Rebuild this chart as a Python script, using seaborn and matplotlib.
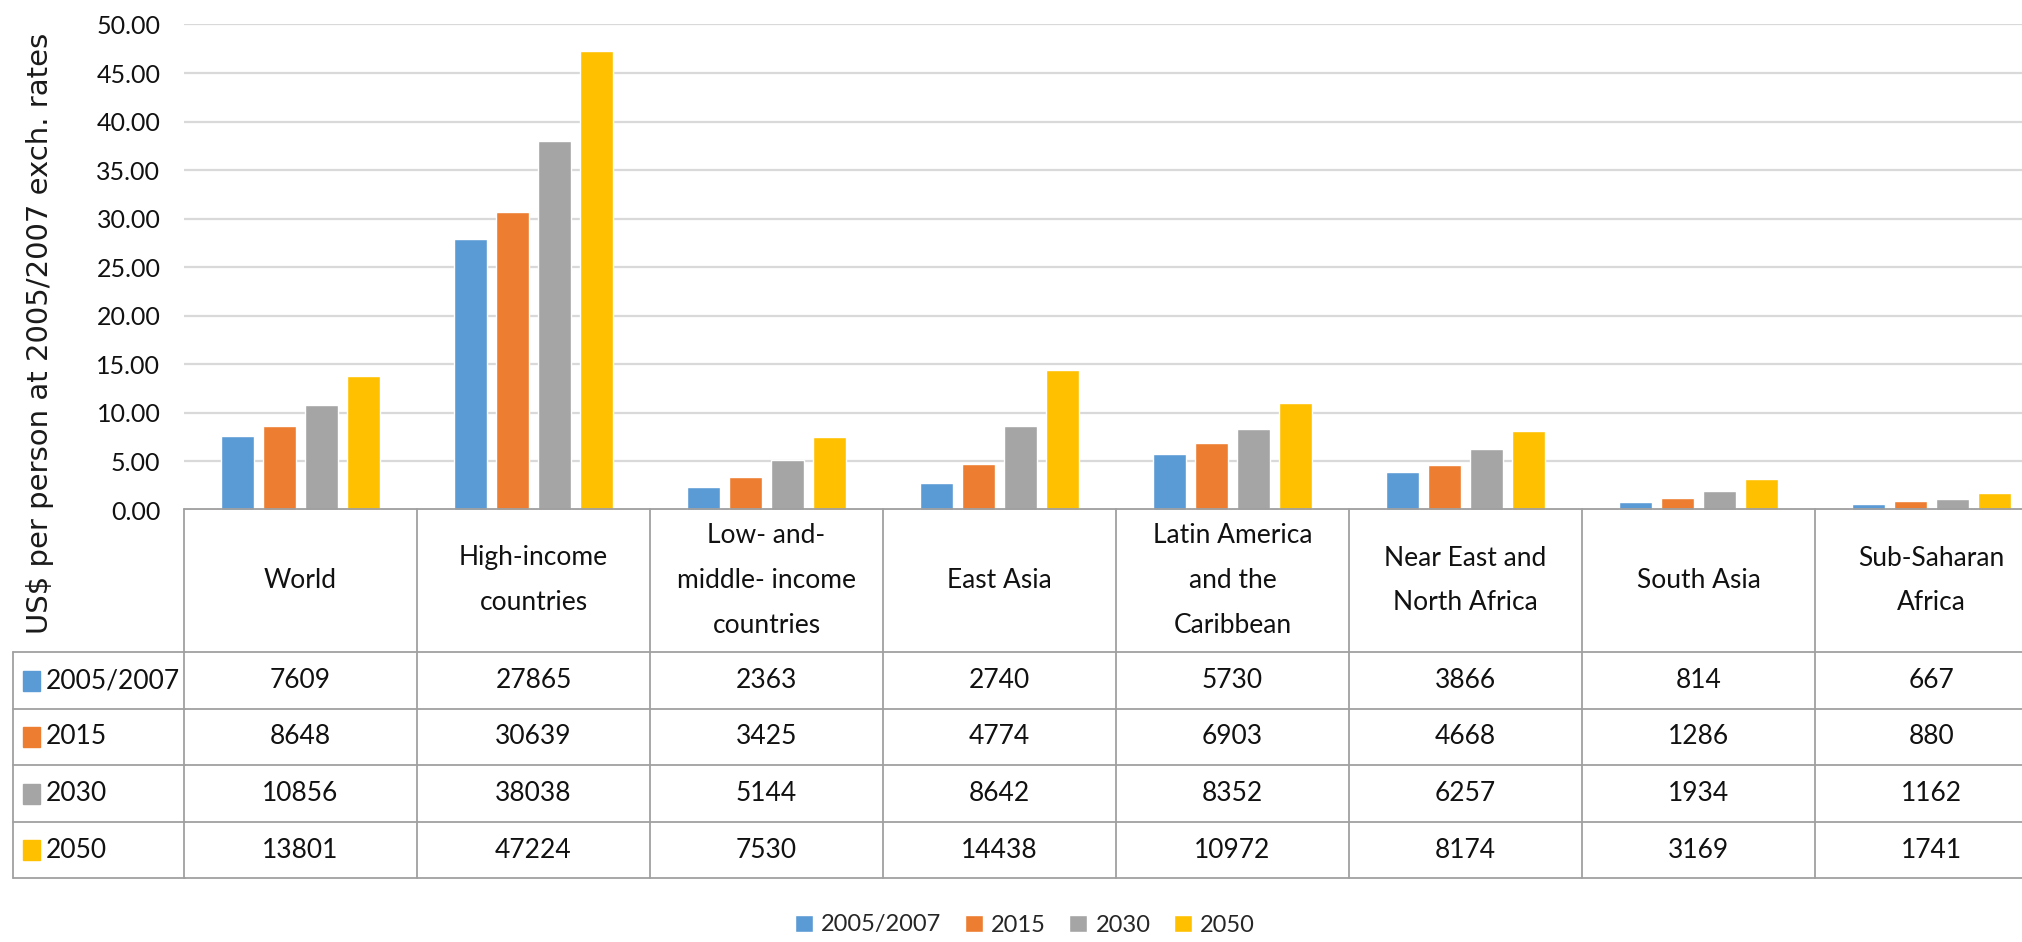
import matplotlib
matplotlib.use("Agg")
import matplotlib.pyplot as plt
import matplotlib.transforms as mtransforms
from matplotlib.lines import Line2D
from matplotlib.patches import Rectangle
import seaborn as sns
import pandas as pd

# dados (US$ por pessoa)
regioes = ["World", "High-income countries", "Low- and- middle- income countries",
           "East Asia", "Latin America and the Caribbean", "Near East and North Africa",
           "South Asia", "Sub-Saharan Africa"]
rotulos = ["World", "High-income\ncountries", "Low- and-\nmiddle- income\ncountries",
           "East Asia", "Latin America\nand the\nCaribbean", "Near East and\nNorth Africa",
           "South Asia", "Sub-Saharan\nAfrica"]
periodos = ["2005/2007", "2015", "2030", "2050"]
v_2005 = [7609, 27865, 2363, 2740, 5730, 3866, 814, 667]
v_2015 = [8648, 30639, 3425, 4774, 6903, 4668, 1286, 880]
v_2030 = [10856, 38038, 5144, 8642, 8352, 6257, 1934, 1162]
v_2050 = [13801, 47224, 7530, 14438, 10972, 8174, 3169, 1741]
cores = ["#5B9BD5", "#ED7D31", "#A5A5A5", "#FFC000"]

series = [v_2005, v_2015, v_2030, v_2050]
linhas = []
for p, vals in zip(periodos, series):
    for r, v in zip(regioes, vals):
        linhas.append({"regiao": r, "periodo": p, "valor": v / 1000})
df = pd.DataFrame(linhas)

sns.set_style("white")
plt.rcParams["font.family"] = ["Lato", "DejaVu Sans"]

W, H = 2022, 942
fig = plt.figure(figsize=(W / 100, H / 100), dpi=100)
ax = fig.add_axes([184 / W, 1 - 510 / H, 1864 / W, (510 - 24.5) / H])

sns.barplot(data=df, x="regiao", y="valor", hue="periodo", order=regioes,
            hue_order=periodos, palette=cores, width=0.726, gap=0.22,
            saturation=1, ax=ax)

ax.set_xlim(-0.5, len(regioes) - 0.5)
ax.set_ylim(0, 50)
ax.set_yticks(range(0, 51, 5))
ax.set_yticklabels([f"{t:.2f}" for t in range(0, 51, 5)], fontsize=18, color="#111111")
ax.tick_params(axis="y", length=0, pad=17)
ax.set_xticks([])
ax.set_xlabel("")
ax.set_ylabel("")
ax.grid(axis="y", color="#D9D9D9", linewidth=1.6)
ax.set_axisbelow(True)
for s in ax.spines.values():
    s.set_visible(False)

handles, labels = ax.get_legend_handles_labels()
ax.legend_.remove()
fig.legend(handles, labels, loc="center", bbox_to_anchor=(1025 / W, 1 - 925 / H),
           ncol=4, frameon=False, fontsize=17, handlelength=0.75, handleheight=0.75,
           handletextpad=0.35, columnspacing=1.0)

fig.text(40 / W, 1 - 333 / H, "US$ per person at 2005/2007 exch. rates",
         rotation=90, ha="center", va="center", fontsize=21,
         family="DejaVu Sans", color="#1a1a1a")

# tabela de dados (estilo Excel)
tr = mtransforms.blended_transform_factory(ax.transData, fig.transFigure)
cor_linha = "#A0A0A0"
lw = 1.3
y_topo = 1 - 509 / H
y_cab = 1 - 652 / H
y_linhas = [1 - y / H for y in (709, 765, 822, 878)]
x0 = -0.5
x1 = len(regioes) - 0.5 + 0.2

def linha(xs, ys, transform):
    fig.add_artist(Line2D(xs, ys, transform=transform, color=cor_linha,
                          linewidth=lw, clip_on=False))

linha([x0, x1], [y_topo, y_topo], tr)
for yy in [y_cab] + y_linhas:
    linha([x0, x1], [yy, yy], tr)
    linha([13 / W, 185 / W], [yy, yy], fig.transFigure)
linha([13 / W, 13 / W], [y_cab, y_linhas[-1]], fig.transFigure)
for k in range(len(regioes) + 1):
    linha([k - 0.5, k - 0.5], [y_topo, y_linhas[-1]], tr)

for i, rot in enumerate(rotulos):
    fig.text(i, (y_topo + y_cab) / 2, rot, transform=tr, ha="center", va="center",
             fontsize=19, linespacing=2.0, color="#111111")

bordas = [y_cab] + y_linhas
for j, (p, vals) in enumerate(zip(periodos, series)):
    yc = (bordas[j] + bordas[j + 1]) / 2
    fig.add_artist(Rectangle((23 / W, yc - 10 / H), 17 / W, 20 / H,
                             transform=fig.transFigure, color=cores[j]))
    fig.text(46 / W, yc, p, ha="left", va="center", fontsize=19, color="#111111")
    for i, v in enumerate(vals):
        fig.text(i, yc, str(v), transform=tr, ha="center", va="center",
                 fontsize=19, color="#111111")

fig.savefig("out.png", dpi=100)
